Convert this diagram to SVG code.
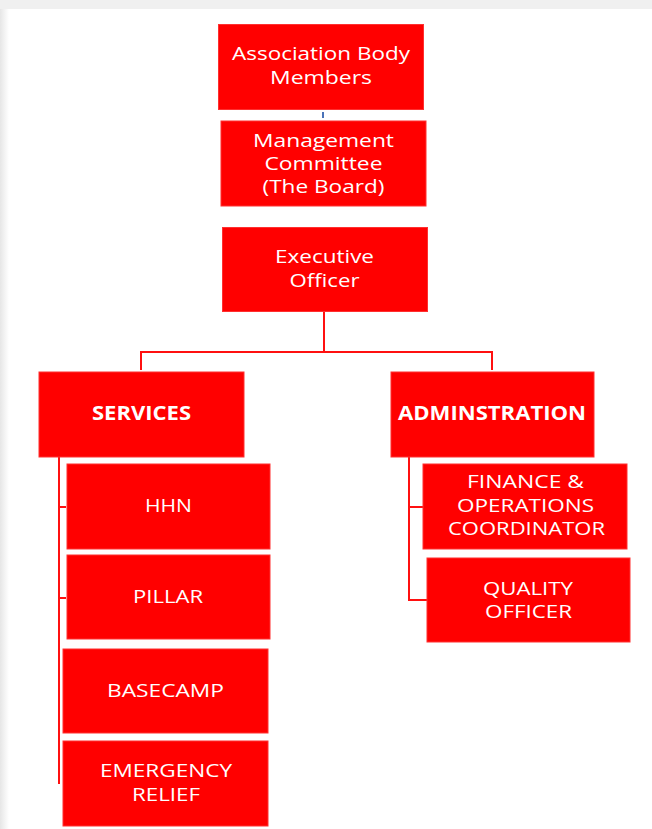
<svg xmlns="http://www.w3.org/2000/svg" width="652" height="829" viewBox="0 0 652 829">
  <defs>
    <linearGradient id="edgeL" x1="0" x2="1" y1="0" y2="0">
      <stop offset="0" stop-color="#e6e6e6"/>
      <stop offset="1" stop-color="#ffffff"/>
    </linearGradient>
    <style>
      .box { fill: #ff0000; stroke: #ff3030; stroke-width: 1; }
      .lbl { fill: #ffffff; font-family: "Open Sans", "Liberation Sans", sans-serif; font-size: 19px; text-anchor: middle; }
      .bold { font-weight: bold; }
      .wire { fill: none; stroke: #ff1010; stroke-width: 2; }
      .wire-blue { fill: none; stroke: #4a72b8; stroke-width: 2; }
    </style>
  </defs>

  <!-- page background with soft frame -->
  <rect x="0" y="0" width="652" height="829" fill="#ffffff"/>
  <rect x="0" y="0" width="9" height="829" fill="url(#edgeL)"/>
  <rect x="0" y="0" width="652" height="9" fill="#f0f0f0"/>

  <!-- connectors -->
  <g id="connectors">
    <line class="wire-blue" x1="323" y1="112" x2="323" y2="118"/>
    <polyline class="wire" points="324,311 324,352"/>
    <polyline class="wire" points="141,370 141,352 492,352 492,370"/>
    <!-- services branch -->
    <polyline class="wire" points="59,457 59,784"/>
    <line class="wire" x1="59" y1="507" x2="66" y2="507"/>
    <line class="wire" x1="59" y1="598" x2="66" y2="598"/>
    <!-- administration branch -->
    <polyline class="wire" points="409,457 409,600 427,600"/>
    <line class="wire" x1="409" y1="507" x2="423" y2="507"/>
  </g>

  <g id="association">
    <rect class="box" x="218.5" y="24.5" width="205" height="85"/>
    <text class="lbl" x="321" y="60" textLength="178" lengthAdjust="spacingAndGlyphs">Association Body</text>
    <text class="lbl" x="321" y="84" textLength="102" lengthAdjust="spacingAndGlyphs">Members</text>
  </g>

  <g id="management">
    <rect class="box" x="221" y="121" width="205" height="85"/>
    <text class="lbl" x="323.5" y="147" textLength="141" lengthAdjust="spacingAndGlyphs">Management</text>
    <text class="lbl" x="323.5" y="170" textLength="118" lengthAdjust="spacingAndGlyphs">Committee</text>
    <text class="lbl" x="323.5" y="193" textLength="122" lengthAdjust="spacingAndGlyphs">(The Board)</text>
  </g>

  <g id="executive">
    <rect class="box" x="222.5" y="227.5" width="205" height="84"/>
    <text class="lbl" x="324.5" y="263" textLength="99" lengthAdjust="spacingAndGlyphs">Executive</text>
    <text class="lbl" x="324.5" y="287" textLength="70" lengthAdjust="spacingAndGlyphs">Officer</text>
  </g>

  <g id="services">
    <rect class="box" x="39" y="372" width="205" height="85"/>
    <text class="lbl bold" x="141.5" y="420" textLength="99" lengthAdjust="spacingAndGlyphs">SERVICES</text>
  </g>

  <g id="administration">
    <rect class="box" x="391" y="372" width="203" height="85"/>
    <text class="lbl bold" x="492" y="420" textLength="188" lengthAdjust="spacingAndGlyphs">ADMINSTRATION</text>
  </g>

  <g id="hhn">
    <rect class="box" x="67" y="464" width="203" height="85"/>
    <text class="lbl" x="168.5" y="512" textLength="47" lengthAdjust="spacingAndGlyphs">HHN</text>
  </g>

  <g id="pillar">
    <rect class="box" x="67" y="555" width="203" height="84"/>
    <text class="lbl" x="168" y="603" textLength="70" lengthAdjust="spacingAndGlyphs">PILLAR</text>
  </g>

  <g id="basecamp">
    <rect class="box" x="63" y="649" width="205" height="84"/>
    <text class="lbl" x="165.5" y="697" textLength="117" lengthAdjust="spacingAndGlyphs">BASECAMP</text>
  </g>

  <g id="emergency">
    <rect class="box" x="63" y="741" width="205" height="85"/>
    <text class="lbl" x="166" y="777" textLength="132" lengthAdjust="spacingAndGlyphs">EMERGENCY</text>
    <text class="lbl" x="166" y="801" textLength="68" lengthAdjust="spacingAndGlyphs">RELIEF</text>
  </g>

  <g id="finance">
    <rect class="box" x="423" y="464" width="204" height="85"/>
    <text class="lbl" x="525.5" y="488" textLength="117" lengthAdjust="spacingAndGlyphs">FINANCE &amp;</text>
    <text class="lbl" x="525.5" y="512" textLength="137" lengthAdjust="spacingAndGlyphs">OPERATIONS</text>
    <text class="lbl" x="526.5" y="535" textLength="157" lengthAdjust="spacingAndGlyphs">COORDINATOR</text>
  </g>

  <g id="quality">
    <rect class="box" x="427" y="558" width="203" height="84"/>
    <text class="lbl" x="528" y="595" textLength="90" lengthAdjust="spacingAndGlyphs">QUALITY</text>
    <text class="lbl" x="528.5" y="618" textLength="87" lengthAdjust="spacingAndGlyphs">OFFICER</text>
  </g>
</svg>
